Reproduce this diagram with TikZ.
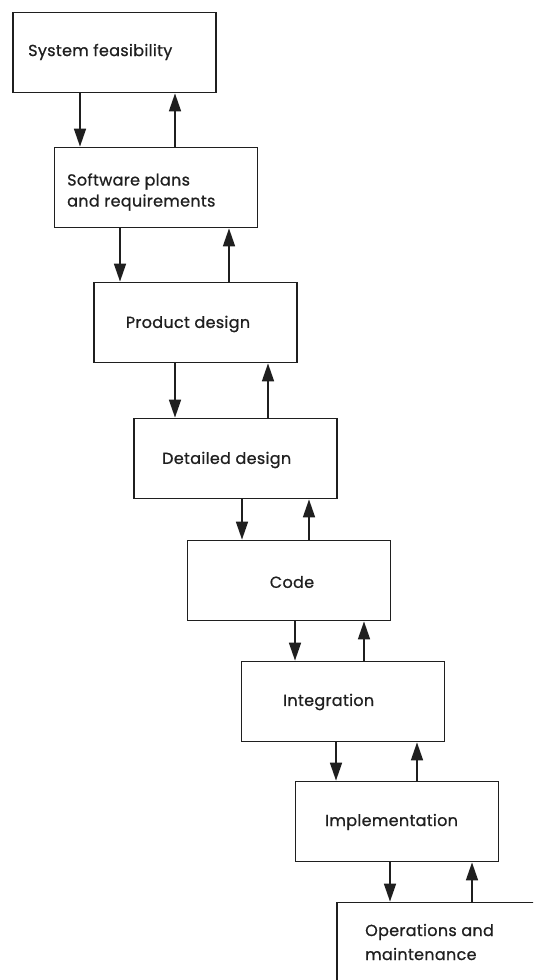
\documentclass[tikz,border=0pt]{standalone}
\usepackage{fontspec}
\setmainfont{Poppins}[FakeBold=0.8,LetterSpace=2]
\usetikzlibrary{arrows.meta}

\tikzset{
  stage/.style={draw=black!88, fill=white, line width=1.8pt,
                minimum width=203pt, minimum height=80pt, inner sep=0pt},
  lbl/.style={font=\fontsize{16}{21}\selectfont, text=black!88, inner sep=0pt, align=left},
  flow/.style={draw=black!88, line width=1.7pt,
               -{Triangle[length=18pt,width=12pt]}},
}

\begin{document}
\begin{tikzpicture}[x=1pt,y=-1pt]
  \fill[white] (0,0) rectangle (533,980);
  \useasboundingbox (0,0) rectangle (533,980);
  \clip (0,0) rectangle (533,980);

  % the stages of the waterfall, stepping down to the right
  \node[stage] (b1) at (114.5, 52.5) {};
  \node[stage] (b2) at (156, 187.5) {};
  \node[stage] (b3) at (195.5, 322.5) {};
  \node[stage] (b4) at (235.5, 458.5) {};
  \node[stage] (b5) at (289, 580.5) {};
  \node[stage] (b6) at (343, 701.5) {};
  \node[stage] (b7) at (397, 821.5) {};
  \node[stage] (b8) at (438.5, 942.5) {};

  % stage names
  \node[lbl, anchor=west] (t1) at (28, 52) {System feasibility};
  \node[lbl, anchor=west] (t2) at (67, 192) {Software plans\\and requirements};
  \node[lbl] (t3) at (188, 324) {Product design};
  \node[lbl, anchor=west] (t4) at (162, 460) {Detailed design};
  \node[lbl] (t5) at (292, 582) {Code};
  \node[lbl, anchor=west] (t6) at (283, 702) {Integration};
  \node[lbl, anchor=west] (t7) at (325, 822) {Implementation};
  \node[lbl, anchor=west, font=\fontsize{16}{24}\selectfont] (t8) at (365, 942) {Operations and\\maintenance};

  % x positions of the forward (down) and feedback (up) arrows
  \coordinate (d12) at (80,0);  \coordinate (u12) at (175,0);
  \coordinate (d23) at (120,0); \coordinate (u23) at (229,0);
  \coordinate (d34) at (175,0); \coordinate (u34) at (268,0);
  \coordinate (d45) at (242,0); \coordinate (u45) at (309,0);
  \coordinate (d56) at (295,0); \coordinate (u56) at (364,0);
  \coordinate (d67) at (336,0); \coordinate (u67) at (417,0);
  \coordinate (d78) at (390,0); \coordinate (u78) at (472,0);

  \foreach \a/\b in {1/2,2/3,3/4,4/5,5/6,6/7,7/8} {
    \draw[flow] (b\a.south -| d\a\b) -- (b\b.north -| d\a\b);
    \draw[flow] (b\b.north -| u\a\b) -- (b\a.south -| u\a\b);
  }
\end{tikzpicture}
\end{document}
